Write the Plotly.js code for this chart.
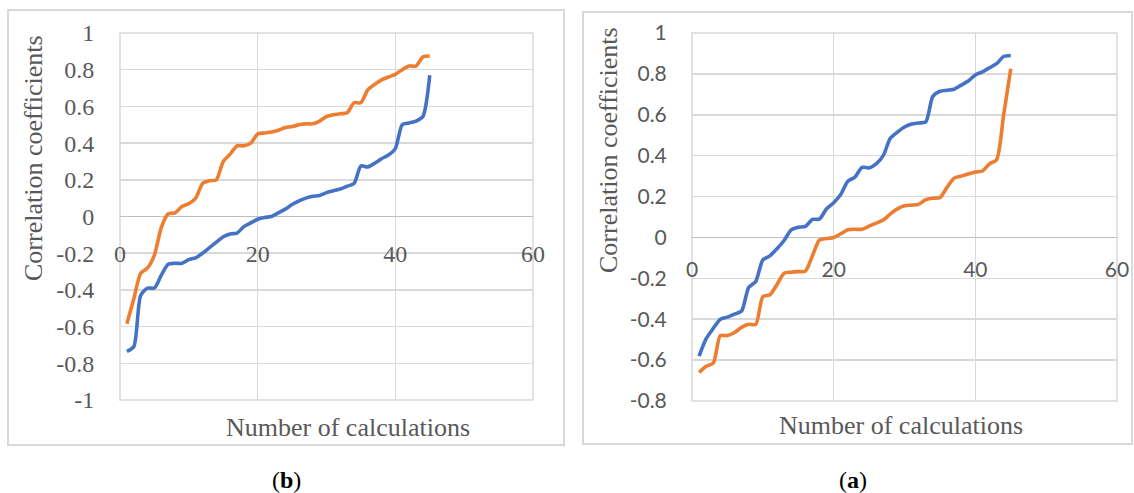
<!DOCTYPE html>
<html>
<head>
<meta charset="utf-8">
<script src="https://cdn.plot.ly/plotly-3.0.1.min.js"></script>
<style>html,body{margin:0;padding:0;background:#fff;}#chart{width:1134px;height:493px;}</style>
</head>
<body>
<div id="chart"></div>
<script>
// x: number of calculations
const calcs = [1,2,3,4,5,6,7,8,9,10,11,12,13,14,15,16,17,18,19,20,21,22,23,24,25,26,27,28,29,30,31,32,33,34,35,36,37,38,39,40,41,42,43,44,45];

// Panel (b) – left
const bBlue = [-0.735,-0.71,-0.43,-0.39,-0.39,-0.32,-0.26,-0.255,-0.255,-0.235,-0.225,-0.20,-0.17,-0.14,-0.11,-0.095,-0.09,-0.055,-0.035,-0.015,-0.005,0.0,0.02,0.04,0.065,0.085,0.10,0.11,0.115,0.13,0.14,0.15,0.165,0.18,0.275,0.27,0.29,0.315,0.335,0.37,0.50,0.51,0.52,0.545,0.77];
const bOrange = [-0.585,-0.45,-0.31,-0.28,-0.21,-0.06,0.015,0.02,0.055,0.07,0.10,0.18,0.195,0.20,0.30,0.34,0.385,0.385,0.40,0.45,0.455,0.46,0.47,0.485,0.49,0.50,0.505,0.505,0.52,0.545,0.555,0.56,0.565,0.62,0.62,0.69,0.72,0.745,0.76,0.775,0.80,0.82,0.82,0.87,0.875];

// Panel (a) – right
const aBlue = [-0.58,-0.495,-0.445,-0.40,-0.39,-0.375,-0.36,-0.245,-0.215,-0.11,-0.09,-0.055,-0.015,0.037,0.05,0.054,0.088,0.09,0.14,0.17,0.21,0.275,0.295,0.343,0.34,0.36,0.40,0.485,0.515,0.54,0.555,0.56,0.565,0.69,0.715,0.72,0.725,0.745,0.765,0.795,0.81,0.83,0.85,0.885,0.89];
const aOrange = [-0.66,-0.63,-0.615,-0.48,-0.48,-0.465,-0.44,-0.425,-0.425,-0.29,-0.28,-0.23,-0.175,-0.17,-0.167,-0.165,-0.09,-0.012,-0.005,0.0,0.018,0.038,0.04,0.04,0.055,0.07,0.085,0.115,0.14,0.155,0.158,0.162,0.185,0.192,0.195,0.245,0.29,0.30,0.31,0.32,0.325,0.36,0.38,0.60,0.825];

const xTicks = [0,20,40,60];
const bYTicks = [-1,-0.8,-0.6,-0.4,-0.2,0,0.2,0.4,0.6,0.8,1];
const aYTicks = [-0.8,-0.6,-0.4,-0.2,0,0.2,0.4,0.6,0.8,1];
const xTitle = 'Number of calculations';
const yTitle = 'Correlation coefficients';

const BLUE = '#4472C4', ORANGE = '#ED7D31';
const GRID = '#d9d9d9', TXT = '#595959';
const W = 1134, H = 493;
const px = v => v / W;
const py = v => 1 - v / H;
const SERIF = 'Liberation Serif, serif';
const SANS = 'Lato, Open Sans, sans-serif';

function line(x, y, color, xa, ya) {
  return {x: x, y: y, type: 'scatter', mode: 'lines', xaxis: xa, yaxis: ya,
    line: {color: color, width: 3.6, shape: 'spline', smoothing: 0.7}, showlegend: false, hoverinfo: 'skip'};
}

const traces = [
  line(calcs, bBlue, BLUE, 'x', 'y'),
  line(calcs, bOrange, ORANGE, 'x', 'y'),
  line(calcs, aBlue, BLUE, 'x2', 'y2'),
  line(calcs, aOrange, ORANGE, 'x2', 'y2')
];

const bZero = py(216.5);
const aZero = py(237);

const layout = {
  width: W, height: H,
  margin: {l: 0, r: 0, t: 0, b: 0},
  paper_bgcolor: '#fff', plot_bgcolor: '#fff',
  showlegend: false,
  xaxis: {domain: [px(120), px(533)], range: [0, 60], tickvals: xTicks, ticktext: xTicks.map(String),
    anchor: 'free', position: bZero, showgrid: true, gridcolor: GRID, gridwidth: 1.5,
    zeroline: false, showline: false, ticks: 'outside', ticklen: 16, tickcolor: 'rgba(0,0,0,0)',
    tickfont: {family: SERIF, size: 24, color: TXT}, fixedrange: true},
  yaxis: {domain: [py(400), py(33)], range: [-1, 1], tickvals: bYTicks, ticktext: bYTicks.map(String),
    anchor: 'x', showgrid: true, gridcolor: GRID, gridwidth: 1.5,
    zeroline: true, zerolinecolor: '#bfbfbf', zerolinewidth: 1.5, showline: false,
    ticks: 'outside', ticklen: 20, tickcolor: 'rgba(0,0,0,0)',
    tickfont: {family: SERIF, size: 24, color: TXT}, fixedrange: true},
  xaxis2: {domain: [px(692), px(1117)], range: [0, 60], tickvals: xTicks, ticktext: xTicks.map(String),
    anchor: 'free', position: aZero, showgrid: true, gridcolor: GRID, gridwidth: 1.5,
    zeroline: false, showline: false, ticks: 'outside', ticklen: 14, tickcolor: 'rgba(0,0,0,0)',
    tickfont: {family: SANS, size: 21, color: TXT}, fixedrange: true},
  yaxis2: {domain: [py(401), py(33)], range: [-0.8, 1], tickvals: aYTicks, ticktext: aYTicks.map(String),
    anchor: 'x2', showgrid: true, gridcolor: GRID, gridwidth: 1.5,
    zeroline: true, zerolinecolor: '#bfbfbf', zerolinewidth: 1.5, showline: false,
    ticks: 'outside', ticklen: 20, tickcolor: 'rgba(0,0,0,0)',
    tickfont: {family: SANS, size: 21, color: TXT}, fixedrange: true},
  shapes: [
    {type: 'rect', xref: 'paper', yref: 'paper', x0: px(8), x1: px(564), y0: py(445), y1: py(10),
      line: {color: GRID, width: 2}, layer: 'below'},
    {type: 'rect', xref: 'paper', yref: 'paper', x0: px(583), x1: px(1132), y0: py(444), y1: py(12),
      line: {color: GRID, width: 2}, layer: 'below'},
    {type: 'rect', xref: 'x domain', yref: 'y domain', x0: 0, x1: 1, y0: 0, y1: 1,
      line: {color: GRID, width: 1.5}, layer: 'below'},
    {type: 'rect', xref: 'x2 domain', yref: 'y2 domain', x0: 0, x1: 1, y0: 0, y1: 1,
      line: {color: GRID, width: 1.5}, layer: 'below'}
  ],
  annotations: [
    {text: xTitle, xref: 'paper', yref: 'paper', x: px(348), y: py(427), showarrow: false,
      xanchor: 'center', yanchor: 'middle', font: {family: SERIF, size: 26, color: TXT}},
    {text: xTitle, xref: 'paper', yref: 'paper', x: px(901), y: py(425), showarrow: false,
      xanchor: 'center', yanchor: 'middle', font: {family: SERIF, size: 26, color: TXT}},
    {text: yTitle, xref: 'paper', yref: 'paper', x: px(33), y: py(158), showarrow: false, textangle: -90,
      xanchor: 'center', yanchor: 'middle', font: {family: SERIF, size: 26, color: TXT}},
    {text: yTitle, xref: 'paper', yref: 'paper', x: px(609), y: py(150), showarrow: false, textangle: -90,
      xanchor: 'center', yanchor: 'middle', font: {family: SERIF, size: 26, color: TXT}},
    {text: '(<b>b</b>)', xref: 'paper', yref: 'paper', x: px(286), y: py(480), showarrow: false,
      xanchor: 'center', yanchor: 'middle', font: {family: SERIF, size: 24, color: '#000'}},
    {text: '(<b>a</b>)', xref: 'paper', yref: 'paper', x: px(853), y: py(480), showarrow: false,
      xanchor: 'center', yanchor: 'middle', font: {family: SERIF, size: 24, color: '#000'}}
  ]
};

Plotly.newPlot('chart', traces, layout, {displayModeBar: false, staticPlot: true});
</script>
</body>
</html>
